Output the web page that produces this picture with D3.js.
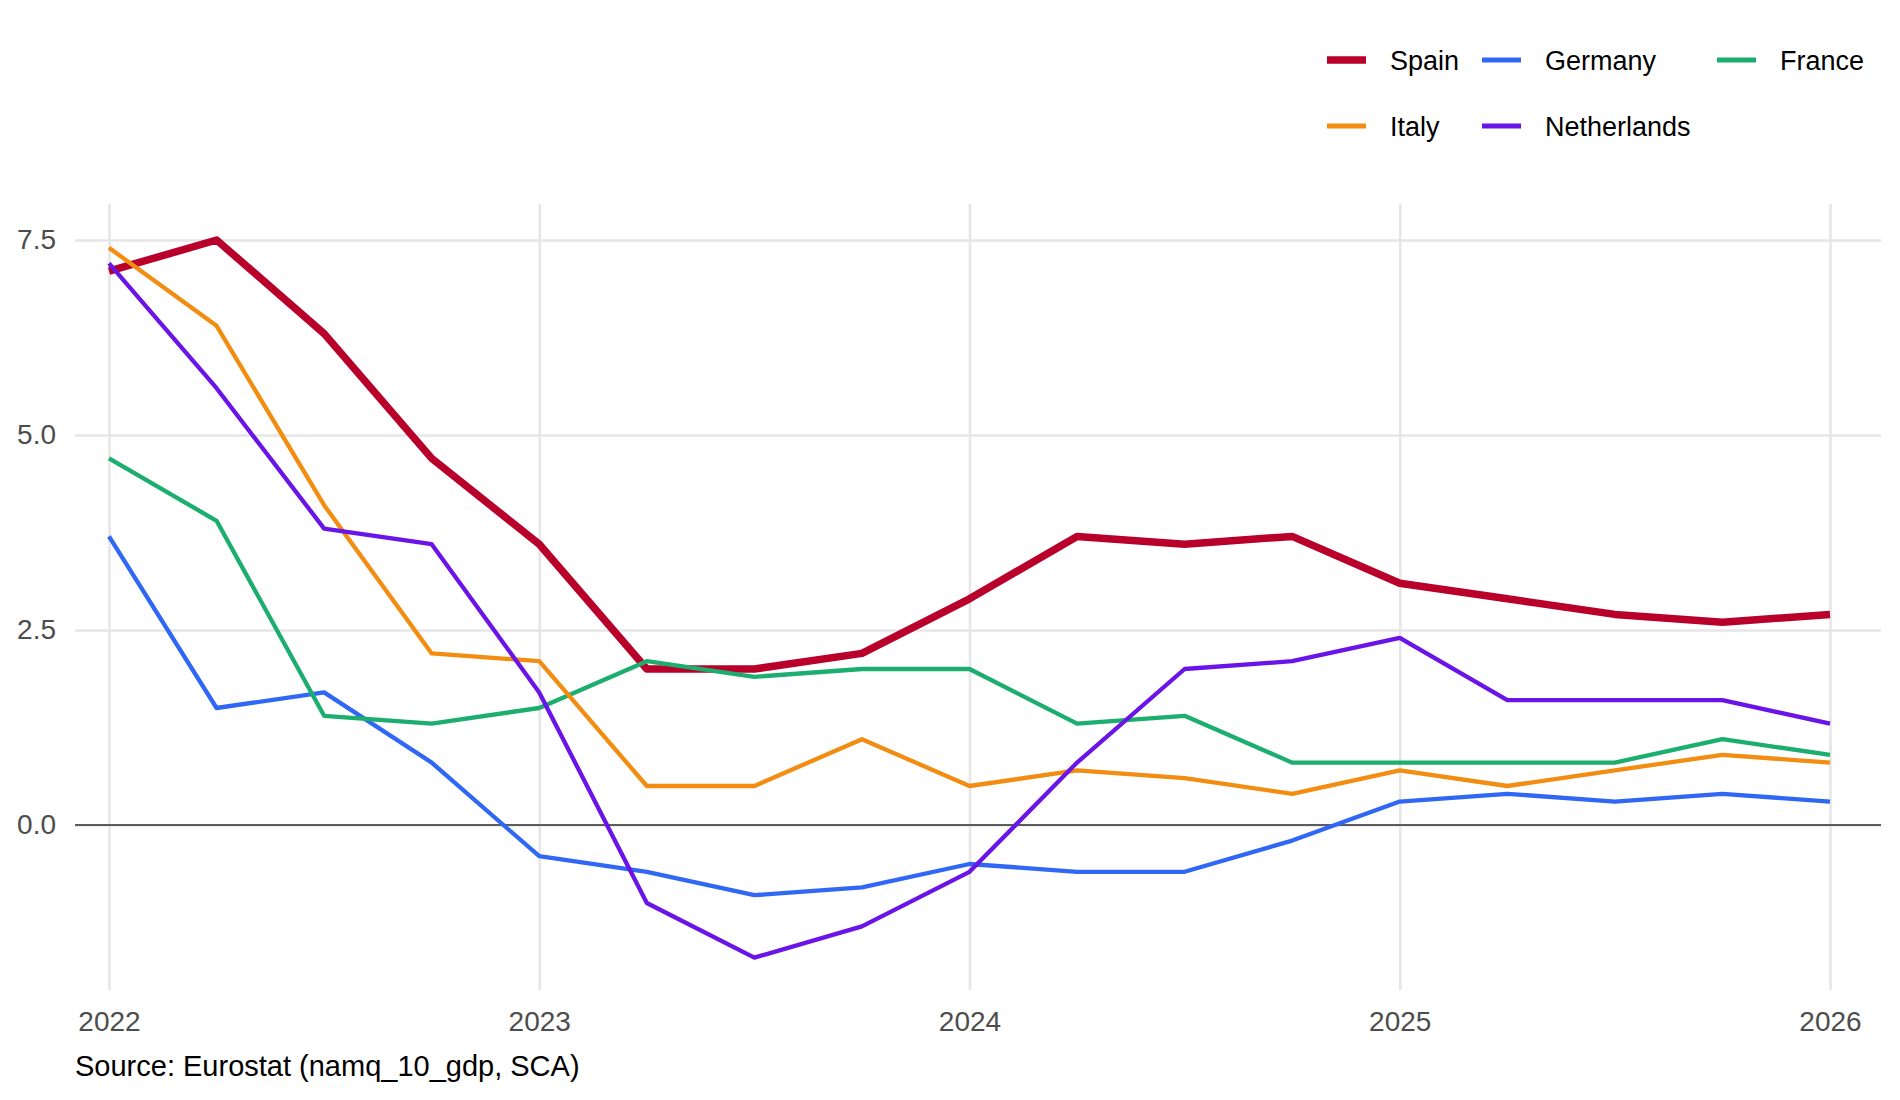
<!DOCTYPE html>
<html>
<head>
<meta charset="utf-8">
<script src="https://cdn.jsdelivr.net/npm/d3@7"></script>
<style>
  body { margin: 0; background: #fff; }
  svg { font-family: "Liberation Sans", Arial, sans-serif; }
</style>
</head>
<body>
<div id="root"></div>
<script>
// quarterly, 2022Q1 .. 2026Q1
const quarters = [2022, 2022.25, 2022.5, 2022.75, 2023, 2023.25, 2023.5, 2023.75,
                  2024, 2024.25, 2024.5, 2024.75, 2025, 2025.25, 2025.5, 2025.75, 2026];

const spain       = [7.1, 7.5, 6.3, 4.7, 3.6, 2.0, 2.0, 2.2, 2.9, 3.7, 3.6, 3.7, 3.1, 2.9, 2.7, 2.6, 2.7];
const germany     = [3.7, 1.5, 1.7, 0.8, -0.4, -0.6, -0.9, -0.8, -0.5, -0.6, -0.6, -0.2, 0.3, 0.4, 0.3, 0.4, 0.3];
const france      = [4.7, 3.9, 1.4, 1.3, 1.5, 2.1, 1.9, 2.0, 2.0, 1.3, 1.4, 0.8, 0.8, 0.8, 0.8, 1.1, 0.9];
const italy       = [7.4, 6.4, 4.1, 2.2, 2.1, 0.5, 0.5, 1.1, 0.5, 0.7, 0.6, 0.4, 0.7, 0.5, 0.7, 0.9, 0.8];
const netherlands = [7.2, 5.6, 3.8, 3.6, 1.7, -1.0, -1.7, -1.3, -0.6, 0.8, 2.0, 2.1, 2.4, 1.6, 1.6, 1.6, 1.3];

const countries = ["Spain", "Germany", "France", "Italy", "Netherlands"];
const seriesValues = [spain, germany, france, italy, netherlands];
const colors = ["#b8002b", "#3068f5", "#1cae6e", "#f28d12", "#6a14e8"];

const yTicks = [0, 2.5, 5, 7.5];
const xTicks = [2022, 2023, 2024, 2025, 2026];
const source = "Source: Eurostat (namq_10_gdp, SCA)";

const w = 1900;
const h = 1100;
const panelLeft = 75;
const panelRight = 1881;

const xScale = d3.scaleLinear().domain([2022, 2026]).range([109, 1830]);
const yScale = d3.scaleLinear().domain([0, 7.5]).range([825, 240]);
const panelTop = yScale(7.96);
const panelBottom = yScale(-2.12);

const svg = d3.select("#root")
    .append("svg")
    .attr("width", w)
    .attr("height", h);

// y grid + labels
const yAxis = d3.axisLeft(yScale)
    .tickValues(yTicks)
    .tickFormat(d3.format(".1f"))
    .tickSize(-(panelRight - panelLeft))
    .tickPadding(19);
const gy = svg.append("g")
    .attr("transform", "translate(" + panelLeft + ",0)")
    .call(yAxis);
gy.select(".domain").remove();
gy.selectAll("line").attr("stroke", "#e6e6e6").attr("stroke-width", 2.6);
gy.selectAll("text").attr("fill", "#4d4d4d").style("font-size", "28px");

// x grid + labels
const xAxis = d3.axisBottom(xScale)
    .tickValues(xTicks)
    .tickFormat(d3.format("d"))
    .tickSize(-(panelBottom - panelTop))
    .tickPadding(21);
const gx = svg.append("g")
    .attr("transform", "translate(0," + panelBottom + ")")
    .call(xAxis);
gx.select(".domain").remove();
gx.selectAll("line").attr("stroke", "#e6e6e6").attr("stroke-width", 2.6);
gx.selectAll("text").attr("fill", "#4d4d4d").style("font-size", "28px");

// zero line
svg.append("line")
    .attr("x1", panelLeft)
    .attr("x2", panelRight)
    .attr("y1", yScale(0))
    .attr("y2", yScale(0))
    .attr("stroke", "#5c5c5c")
    .attr("stroke-width", 2.2);

// lines
const line = d3.line()
    .x((d, i) => xScale(quarters[i]))
    .y(d => yScale(d));

svg.selectAll(".series")
    .data(seriesValues)
    .enter()
    .append("path")
    .attr("class", "series")
    .attr("d", d => line(d))
    .attr("fill", "none")
    .attr("stroke", (d, i) => colors[i])
    .attr("stroke-width", (d, i) => i === 0 ? 7.5 : 4.3)
    .attr("stroke-linejoin", "round");

// legend
const legendCols = [1327, 1482, 1717];
const legendRows = [60, 126];
const legend = svg.append("g");
countries.forEach((name, i) => {
    const x = legendCols[i % 3];
    const y = legendRows[Math.floor(i / 3)];
    legend.append("line")
        .attr("x1", x)
        .attr("x2", x + 39)
        .attr("y1", y)
        .attr("y2", y)
        .attr("stroke", colors[i])
        .attr("stroke-width", i === 0 ? 7.5 : 5);
    legend.append("text")
        .attr("x", x + 63)
        .attr("y", y)
        .attr("dy", "0.36em")
        .style("font-size", "27px")
        .attr("fill", "#000")
        .text(name);
});

// caption
svg.append("text")
    .attr("x", 75)
    .attr("y", 1076)
    .style("font-size", "29px")
    .attr("fill", "#000")
    .text(source);
</script>
</body>
</html>
